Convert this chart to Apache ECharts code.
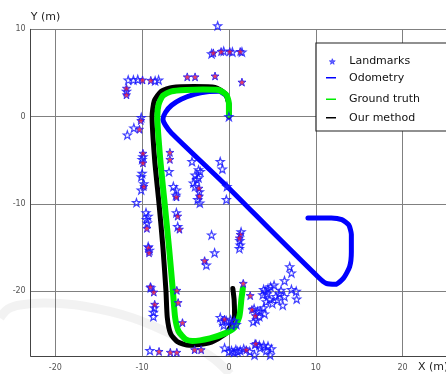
<!DOCTYPE html>
<html><head><meta charset="utf-8">
<script src="https://cdn.jsdelivr.net/npm/echarts@6/dist/echarts.min.js"></script>
<style>html,body{margin:0;padding:0;background:#fff}#c{width:446px;height:374px}</style>
</head><body><div id="c"></div>
<script>
const xTicks = [-20, -10, 0, 10, 20];
const yTicks = [-20, -10, 0, 10];

const odometry = [[0,0],[0,1.4],[-0.3,2.4],[-1.2,2.9],[-2.5,2.85],[-4.0,2.55],[-5.5,2.0],[-6.6,1.3],[-7.3,0.5],[-7.6,-0.3],[-7.3,-1.0],[-6.6,-1.9],[0,-8.2],[5,-13.2],[10.3,-18.4],[11.2,-19.1],[12.3,-19.2],[13.2,-18.5],[13.9,-17.2],[14.1,-15.5],[14.1,-13.5],[13.8,-12.4],[13.0,-11.8],[11.8,-11.6],[9.1,-11.6]];

const groundTruth = [[0,0.2],[0,1.5],[-0.3,2.5],[-1.2,3.05],[-3,3.1],[-5,3.05],[-6.6,2.9],[-7.6,2.4],[-8.1,1.4],[-8.25,0],[-7.9,-5],[-7.4,-10],[-6.9,-15],[-6.45,-20],[-6.2,-23],[-5.8,-24.6],[-5.0,-25.5],[-4.2,-25.7],[-2.2,-25.4],[-0.4,-24.8],[0.6,-24.2],[1.2,-22.9],[1.45,-20.8],[1.6,-19.7]];

const ourMethod = [[0,0],[0,1.3],[-0.4,2.6],[-1.6,3.35],[-4,3.45],[-6.5,3.35],[-7.8,2.9],[-8.6,1.8],[-8.85,0],[-8.55,-5],[-8.05,-10],[-7.6,-15],[-7.25,-20],[-7.1,-23],[-6.7,-24.9],[-5.9,-25.8],[-4.6,-26.2],[-2.2,-25.9],[-0.3,-24.8],[0.65,-22.9],[0.6,-21],[0.45,-19.7]];

const landmarksBlue = [[-1.3,10.4],[-2.0,7.2],[-0.6,7.5],[0.4,7.4],[1.5,7.4],
[-11.6,4.2],[-11.0,4.2],[-10.5,4.25],[-8.1,4.2],[-8.5,4.1],[-11.8,2.9],
[-10.1,-0.1],[-10.95,-1.3],[-11.7,-2.1],
[-9.9,-4.6],[-10.0,-4.9],[-10.1,-6.9],[-10.0,-6.5],[-9.8,-7.7],[-10.1,-8.4],[-10.65,-9.85],
[-9.3,-11.4],[-9.5,-11.8],[-9.4,-12.2],[-9.55,-11.0],[-9.3,-14.9],[-9.15,-15.3],
[-9.0,-19.6],[-8.6,-21.9],[-8.7,-22.4],[-8.7,-22.9],
[-6.9,-6.3],[-6.4,-8.0],[-6.05,-8.4],[-6.1,-9.0],[-6.05,-11.0],[-5.9,-12.6],
[-4.25,-5.15],[-3.5,-6.1],[-3.3,-6.3],[-3.9,-6.7],[-3.7,-7.2],[-4.1,-7.6],[-3.9,-8.0],[-3.4,-8.6],[-3.6,-9.5],[-3.35,-9.9],[-3.5,-7.0],
[-1.0,-5.15],[-0.76,-6.0],[-0.23,-8.0],[-0.3,-9.5],
[-2.0,-13.55],[-1.65,-15.6],[-2.6,-17.0],
[1.25,-14.2],[1.3,-14.7],[1.2,-15.1],[1.4,-13.2],
[-9.1,-26.8],
[-0.76,-23.5],[-1.0,-23.0],[-0.3,-23.4],[0.2,-23.3],[0.6,-23.4],[0.85,-23.8],[-0.6,-23.9],[0.3,-23.9],
[2.9,-22.0],[3.3,-22.3],[3.6,-22.3],[4.0,-21.9],[3.5,-22.9],[3.2,-23.3],[2.8,-23.5],[4.1,-22.6],
[3.9,-20.4],[4.2,-20.0],[4.5,-19.7],[4.8,-19.5],[5.2,-19.3],[4.4,-20.3],[4.0,-19.8],
[4.3,-21.2],[4.7,-20.9],[5.0,-21.4],[5.4,-20.6],[5.8,-20.3],
[6.0,-19.9],[6.4,-20.6],[5.6,-21.0],[6.2,-21.6],
[7.0,-17.2],[7.2,-17.9],[6.4,-18.8],[7.2,-19.8],[7.75,-20.0],[7.8,-20.9],
[-0.5,-26.5],
[0.3,-26.8],[0.8,-26.7],[1.3,-26.8],[1.7,-26.6],[2.4,-26.9],[0.6,-27.0],[1.0,-26.9],[3.0,-26.1],[3.5,-26.2],[4.0,-26.2],[4.5,-26.3],[4.9,-26.6],[3.6,-26.5],[4.3,-26.8],[2.95,-27.3],[4.75,-27.3],[0.0,-26.9],
[0,0]];

const landmarksRed = [[-1.8,7.3],[-0.9,7.45],[0.1,7.45],[1.3,7.45],
[1.5,3.95],[-1.6,4.65],[-4.8,4.55],[-3.9,4.55],
[-9.95,4.2],[-9.0,4.15],[-11.8,3.25],[-11.8,2.5],
[-10.15,-0.45],[-10.3,-1.45],
[-9.9,-4.2],[-9.9,-5.3],[-9.8,-8.0],
[-6.8,-4.1],[-6.8,-4.9],
[-6.05,-9.2],[-5.9,-11.4],[-5.7,-12.9],
[-3.45,-8.2],[-3.4,-9.1],
[-9.45,-12.8],[-9.25,-15.0],[-9.2,-15.6],
[-9.05,-19.5],[-8.65,-20.1],[-8.55,-21.5],
[-6.0,-19.9],[-5.85,-21.3],[-5.35,-23.6],
[-2.8,-16.5],
[1.3,-13.5],[1.2,-13.9],
[1.65,-19.1],[2.45,-20.5],[2.65,-22.1],[3.05,-22.8],
[-0.5,-23.2],
[-8.05,-26.9],[-6.75,-27.0],[-6.0,-27.0],[-3.95,-26.7],[-3.2,-26.7],
[2.0,-26.7],[3.1,-26.0]];

const seriesNames = ['Landmarks', 'Odometry', 'Ground truth', 'Our method'];

const STAR = 'path://M10,0 L12.35,6.76 L19.51,6.91 L13.8,11.24 L15.88,18.09 L10,14 L4.12,18.09 L6.2,11.24 L0.49,6.91 L7.65,6.76 Z';
const FONT = 'DejaVu Sans';

const chart = echarts.init(document.getElementById('c'), null, {renderer: 'canvas'});

const legendRow = (name, cy, left, icon, w, h, itemStyle) => ({
  data: [{name: name, icon: icon, itemStyle: itemStyle}], orient: 'vertical', left: left, top: cy - h / 2,
  itemWidth: w, itemHeight: h, padding: 0, z: 6,
  selectedMode: false,
  textStyle: {fontFamily: FONT, fontSize: 11, color: '#111', padding: [0, 0, 0, 349 - left - w - 5]}
});

chart.setOption({
  animation: false,
  backgroundColor: '#fff',
  grid: {left: 30.7, top: 29.3, right: 0, bottom: 18},
  xAxis: {
    type: 'value', min: -22.83, max: 25,
    axisLine: {show: true, onZero: false, lineStyle: {color: '#444', width: 1}},
    axisTick: {show: false, customValues: xTicks},
    axisLabel: {customValues: xTicks, fontFamily: FONT, fontSize: 8, color: '#555', margin: 8},
    splitLine: {show: true, lineStyle: {color: '#808080', width: 1}}
  },
  yAxis: {
    type: 'value', min: -27.42, max: 10,
    name: 'Y (m)', nameLocation: 'end', nameGap: 7,
    nameTextStyle: {fontFamily: FONT, fontSize: 11, color: '#222', align: 'left'},
    axisLine: {show: true, onZero: false, lineStyle: {color: '#444', width: 1}},
    axisTick: {show: false, customValues: yTicks},
    axisLabel: {customValues: yTicks, fontFamily: FONT, fontSize: 8, color: '#555', margin: 5},
    splitLine: {show: true, lineStyle: {color: '#808080', width: 1}}
  },
  legend: [
    legendRow(seriesNames[0], 59, 329, STAR, 6, 6, {color: '#4040ff', borderColor: '#0000ff', borderWidth: 0.6}),
    legendRow(seriesNames[1], 73, 326, 'rect', 10, 1.5),
    legendRow(seriesNames[2], 94.5, 326, 'rect', 10, 1.5),
    legendRow(seriesNames[3], 113, 326, 'rect', 10, 1.5)
  ],
  graphic: [
    {type: 'polyline', z: 1, silent: true,
     shape: {points: [[0,318],[8,309],[20,305],[45,303],[83,306],[133,318],[183,340],[213,358],[230,374]], smooth: 0.4},
     style: {fill: null, stroke: 'rgba(0,0,0,0.05)', lineWidth: 9}},
    {type: 'rect', z: 5, shape: {x: 316, y: 43, width: 140, height: 88},
     style: {fill: '#fff', stroke: '#222', lineWidth: 1.2}},
    {type: 'text', z: 5, left: 418, top: 362,
     style: {text: 'X (m)', fontFamily: FONT, fontSize: 11, fill: '#222'}}
  ],
  series: [
    {name: seriesNames[1], type: 'line', data: odometry, showSymbol: false, smooth: 0.2,
     color: '#0000ff', lineStyle: {color: '#0000ff', width: 5, cap: 'round', join: 'round'}, z: 2},
    {name: seriesNames[3], type: 'line', data: ourMethod, showSymbol: false, smooth: 0.2,
     color: '#000', lineStyle: {color: '#000', width: 5, cap: 'round', join: 'round'}, z: 3},
    {name: seriesNames[2], type: 'line', data: groundTruth, showSymbol: false, smooth: 0.2,
     color: '#00ee00', lineStyle: {color: '#00ee00', width: 6, cap: 'round', join: 'round'}, z: 4},
    {name: seriesNames[0], type: 'scatter', data: landmarksBlue, symbol: STAR, symbolSize: 8, clip: false,
     color: '#0000ff', itemStyle: {color: 'rgba(255,255,255,0.15)', borderColor: '#1010ff', borderWidth: 1.2}, z: 5},
    {name: 'Landmarks (matched)', type: 'scatter', data: landmarksRed, symbol: STAR, symbolSize: 8, clip: false,
     itemStyle: {color: '#e0103c', borderColor: '#1a1aff', borderWidth: 1}, z: 6}
  ]
});
</script>
</body></html>
